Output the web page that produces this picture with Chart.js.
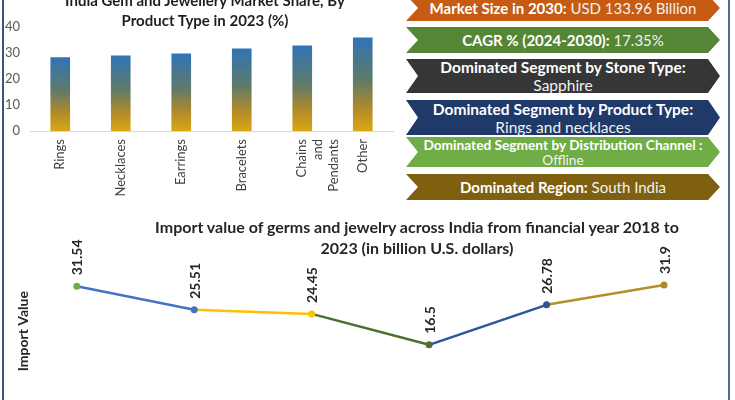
<!DOCTYPE html>
<html>
<head>
<meta charset="utf-8">
<script src="https://cdn.jsdelivr.net/npm/chart.js@4/dist/chart.umd.min.js"></script>
<style>
  html, body { margin: 0; padding: 0; width: 735px; height: 400px; overflow: hidden; background: #ffffff; }
  body { position: relative; font-family: Lato, "Open Sans", sans-serif; }
  .cv { position: absolute; }
  #barWrap { left: 0; top: 0; width: 400px; height: 201px; }
  #lineWrap { left: 0; top: 200px; width: 735px; height: 213px; }
  .banner {
    position: absolute; left: 406px; width: 314px; color: #ffffff;
    clip-path: polygon(0 0, calc(100% - 12px) 0, 100% 50%, calc(100% - 12px) 100%, 0 100%, 12px 50%);
    display: flex; flex-direction: column; justify-content: center; align-items: center;
    text-align: center; font-size: 15px; line-height: 18px; white-space: nowrap;
  }
  .banner b { font-weight: 700; }
  .banner span { font-weight: 400; color: #f2f2f2; }
  .vline { position: absolute; top: 0; height: 400px; width: 2px; }
  .ctitle {
    position: absolute; text-align: center; font-weight: 700; color: #1f1f1f; white-space: nowrap;
  }
  #barTitle { left: 55px; width: 300px; top: -10px; font-size: 15px; line-height: 20px; }
  #lineTitle { left: 117px; width: 600px; top: 216px; font-size: 16px; line-height: 21px; color: #262626; }
</style>
</head>
<body>
<div class="cv" id="barWrap"><canvas id="barChart" width="400" height="201"></canvas></div>
<div class="cv" id="lineWrap"><canvas id="lineChart" width="735" height="213"></canvas></div>
<div class="ctitle" id="barTitle">India Gem and Jewellery Market Share, By<br>Product Type in 2023 (%)</div>
<div class="ctitle" id="lineTitle">Import value of germs and jewelry across India from financial year 2018 to<br>2023 (in billion U.S. dollars)</div>

<div class="banner" style="top:-5px;height:26px;background:#c65b14;"><div><b>Market Size in 2030:</b> <span>USD 133.96 Billion</span></div></div>
<div class="banner" style="top:27px;height:26px;background:#558636;"><div><b>CAGR % (2024-2030):</b> <span>17.35%</span></div></div>
<div class="banner" style="top:59px;height:34px;background:#363636;font-size:15.5px;"><div><b>Dominated Segment by Stone Type:</b></div><div><span>Sapphire</span></div></div>
<div class="banner" style="top:100px;height:35px;background:#1f3a68;font-size:15.5px;"><div><b>Dominated Segment by Product Type:</b></div><div><span>Rings and necklaces</span></div></div>
<div class="banner" style="top:137px;height:30px;background:#70ad47;font-size:13.7px;line-height:15px;"><div><b>Dominated Segment by Distribution Channel :</b></div><div><span>Offline</span></div></div>
<div class="banner" style="top:174px;height:26px;background:#7f6010;"><div><b>Dominated Region:</b> <span>South India</span></div></div>

<div class="vline" style="left:2px;background:#34567f;"></div>
<div class="vline" style="left:728px;background:#4d6e99;"></div>

<script>
// ---- Data ----
const productTypes = ['Rings', 'Necklaces', 'Earrings', 'Bracelets', ['Chains', 'and', 'Pendants'], 'Other'];
const marketShare = [28.2, 28.9, 29.7, 31.6, 32.8, 35.8];
const shareTicks = [0, 10, 20, 30, 40];

const fiscalYears = ['FY2018', 'FY2019', 'FY2020', 'FY2021', 'FY2022', 'FY2023'];
const importValues = [31.54, 25.51, 24.45, 16.5, 26.78, 31.9];

const segmentColors = ['#4472c4', '#ffc000', '#4b7030', '#2f5597', '#b4902a'];
const pointColors = ['#70ad47', '#4472c4', '#ffc000', '#4b7030', '#2f5597', '#b08a25'];

const FONT = "Lato, 'Open Sans', sans-serif";

// ---- Bar chart ----
new Chart(document.getElementById('barChart'), {
  type: 'bar',
  data: {
    labels: productTypes,
    datasets: [{
      data: marketShare,
      barThickness: 19,
      backgroundColor: (c) => {
        const chart = c.chart;
        if (!chart.chartArea || c.raw === undefined) return '#2f74b5';
        const y = chart.scales.y;
        const top = y.getPixelForValue(c.raw);
        const bot = y.getPixelForValue(0);
        const g = chart.ctx.createLinearGradient(0, top, 0, bot);
        g.addColorStop(0, '#2f74b5');
        g.addColorStop(0.45, '#5f7a6a');
        g.addColorStop(0.75, '#b08a2a');
        g.addColorStop(1, '#d9a812');
        return g;
      }
    }]
  },
  options: {
    responsive: false,
    animation: false,
    layout: { padding: { top: 27, right: 7, left: 0, bottom: 0 } },
    plugins: {
      legend: { display: false },
      tooltip: { enabled: false },
      title: { display: false }
    },
    scales: {
      x: {
        grid: { display: false, drawTicks: false },
        border: { display: true, color: '#d9d9d9', width: 1 },
        ticks: {
          color: '#404040', font: { family: FONT, size: 13 },
          minRotation: 90, maxRotation: 90, padding: 8, autoSkip: false
        },
        afterFit: (s) => { s.height = 70; }
      },
      y: {
        min: 0, max: 40,
        afterBuildTicks: (s) => { s.ticks = shareTicks.map(v => ({ value: v })); },
        grid: { display: false, drawTicks: false },
        border: { display: false },
        ticks: { color: '#595959', font: { family: FONT, size: 13 }, padding: 10 },
        afterFit: (s) => { s.width = 30; }
      }
    }
  }
});

// ---- Line chart ----
const valueLabels = {
  id: 'valueLabels',
  afterDatasetsDraw(chart) {
    const ctx = chart.ctx;
    const meta = chart.getDatasetMeta(0);
    ctx.save();
    ctx.fillStyle = '#262626';
    ctx.font = "bold 14px " + FONT;
    ctx.textAlign = 'left';
    ctx.textBaseline = 'middle';
    meta.data.forEach((pt, i) => {
      ctx.save();
      ctx.translate(pt.x + 1, pt.y - 11);
      ctx.rotate(-Math.PI / 2);
      ctx.fillText(String(importValues[i]), 0, 0);
      ctx.restore();
    });
    ctx.restore();
  }
};

new Chart(document.getElementById('lineChart'), {
  type: 'line',
  data: {
    labels: fiscalYears,
    datasets: [{
      data: importValues,
      borderWidth: 2.5,
      pointRadius: 3.5,
      pointBorderWidth: 0,
      pointBackgroundColor: pointColors,
      pointBorderColor: pointColors,
      tension: 0,
      segment: { borderColor: (c) => segmentColors[c.p0DataIndex] }
    }]
  },
  options: {
    responsive: false,
    animation: false,
    clip: false,
    layout: { padding: { top: 53.4, right: 71, left: 0, bottom: 0 } },
    plugins: {
      legend: { display: false },
      tooltip: { enabled: false }
    },
    scales: {
      x: { display: false, offset: false },
      y: {
        min: 0, max: 40,
        grid: { display: false, drawTicks: false },
        border: { display: false },
        ticks: { display: false },
        title: {
          display: true, text: 'Import Value', color: '#262626',
          font: { family: FONT, size: 14, weight: 'bold', lineHeight: 1.2 },
          padding: { top: 15, bottom: 45 }
        }
      }
    }
  },
  plugins: [valueLabels]
});
</script>
</body>
</html>
